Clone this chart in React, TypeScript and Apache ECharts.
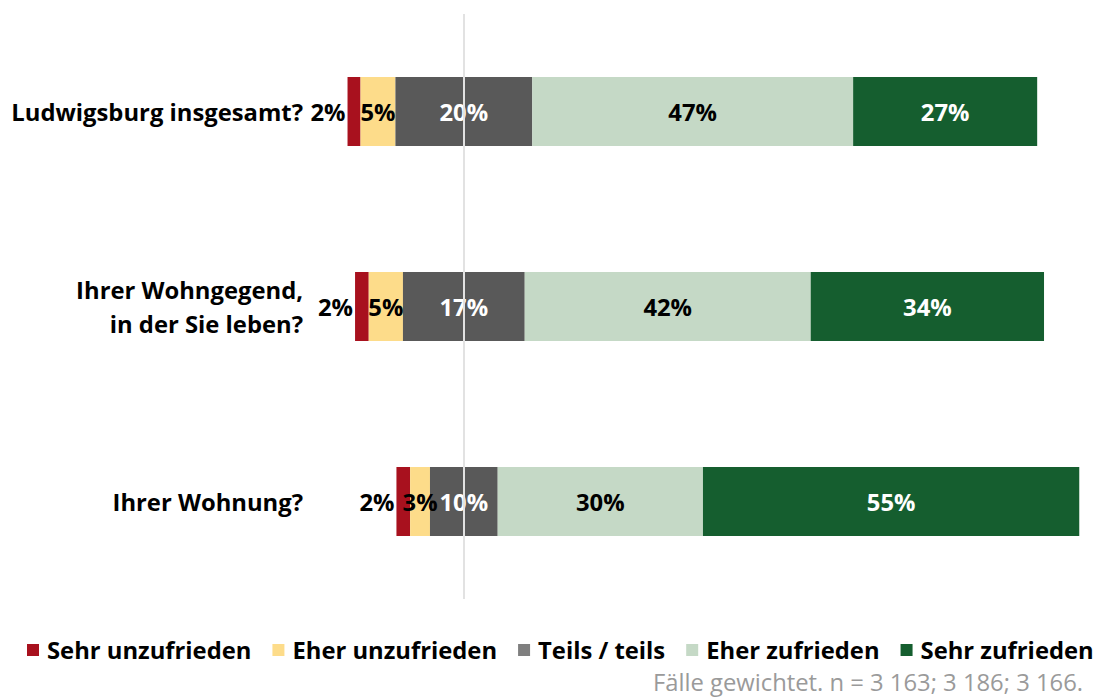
import React, { useEffect, useRef } from "react";
import * as echarts from "echarts";

const categories = ["Ludwigsburg insgesamt?", "Ihrer Wohngegend,\nin der Sie leben?", "Ihrer Wohnung?"];
const seriesNames = ["Sehr unzufrieden", "Eher unzufrieden", "Teils / teils", "Eher zufrieden", "Sehr zufrieden"];
const sehrUnzufrieden = [1.9, 2.0, 2.0];
const eherUnzufrieden = [5.1, 5.0, 2.9];
const teilsTeils = [20.0, 17.8, 9.9];
const eherZufrieden = [46.9, 41.8, 30.0];
const sehrZufrieden = [26.9, 34.1, 55.0];
const sehrUnzufriedenLabels = ["2%", "2%", "2%"];
const eherUnzufriedenLabels = ["5%", "5%", "3%"];
const teilsTeilsLabels = ["20%", "17%", "10%"];
const eherZufriedenLabels = ["47%", "42%", "30%"];
const sehrZufriedenLabels = ["27%", "34%", "55%"];
const footnote = "Fälle gewichtet. n = 3 163; 3 186; 3 166.";

const colors = ["#a8111e", "#fddc8a", "#595959", "#c5d9c6", "#155e2f"];
const legendColors = ["#a8111e", "#fddc8a", "#7f7f7f", "#c5d9c6", "#155e2f"];
const labelColors = ["#000", "#000", "#fff", "#000", "#fff"];
const FONT = "'Open Sans', sans-serif";
const FS = 23.8;

export default function App() {
  const ref = useRef<HTMLDivElement>(null);
  useEffect(() => {
    if (!ref.current) return;
    const chart = echarts.init(ref.current, undefined, { renderer: "svg" });
    const values = [sehrUnzufrieden, eherUnzufrieden, teilsTeils, eherZufrieden, sehrZufrieden];
    const labels = [sehrUnzufriedenLabels, eherUnzufriedenLabels, teilsTeilsLabels, eherZufriedenLabels, sehrZufriedenLabels];
    const offsets = categories.map((_, i) => -(sehrUnzufrieden[i] + eherUnzufrieden[i] + teilsTeils[i] / 2));

    const series: any[] = [
      {
        name: "offset",
        type: "bar",
        stack: "s",
        stackStrategy: "all",
        data: offsets,
        itemStyle: { color: "transparent" },
        silent: true,
        label: { show: false },
        barWidth: 69,
      },
    ];
    seriesNames.forEach((name, si) => {
      series.push({
        name,
        type: "bar",
        stack: "s",
        stackStrategy: "all",
        data: values[si],
        barWidth: 69,
        itemStyle: { color: colors[si] },
        label: {
          show: true,
          position: si === 0 ? "left" : "inside",
          distance: 2,
          color: labelColors[si],
          fontFamily: FONT,
          fontWeight: "bold",
          fontSize: FS,
          formatter: (p: any) => labels[si][p.dataIndex],
        },
      });
    });
    series.push({
      name: "center",
      type: "line",
      data: [],
      z: 10,
      silent: true,
      markLine: {
        silent: true,
        symbol: "none",
        label: { show: false },
        lineStyle: { color: "#e2e2e2", width: 2, type: "solid" },
        data: [{ xAxis: 0 }],
      },
    });

    chart.setOption({
      animation: false,
      grid: { left: 327, right: 20.4, top: 14, bottom: 98 },
      xAxis: { type: "value", min: -20, max: 90, show: false },
      yAxis: {
        type: "category",
        inverse: true,
        data: categories,
        axisLine: { show: false },
        axisTick: { show: false },
        splitLine: { show: false },
        axisLabel: {
          margin: 24,
          color: "#000",
          fontFamily: FONT,
          fontWeight: "bold",
          fontSize: FS,
          lineHeight: 34,
          align: "right",
        },
      },
      legend: {
        left: 27,
        top: 638,
        width: 1090,
        padding: 0,
        itemWidth: 12,
        itemHeight: 12,
        itemGap: 21,
        icon: "rect",
        data: seriesNames.map((n, i) => ({ name: n, itemStyle: { color: legendColors[i] } })),
        textStyle: { color: "#000", fontFamily: FONT, fontWeight: "bold", fontSize: FS, lineHeight: 24, padding: [0, 0, 0, 3] },
      },
      graphic: [
        {
          type: "text",
          right: 17,
          top: 670,
          style: { text: footnote, fill: "#9a9a9a", font: `${FS}px ${FONT}` },
        },
      ],
      series,
    });
    return () => chart.dispose();
  }, []);
  return <div ref={ref} style={{ position: "fixed", left: 0, top: 0, width: 1100, height: 697, background: "#fff" }} />;
}
